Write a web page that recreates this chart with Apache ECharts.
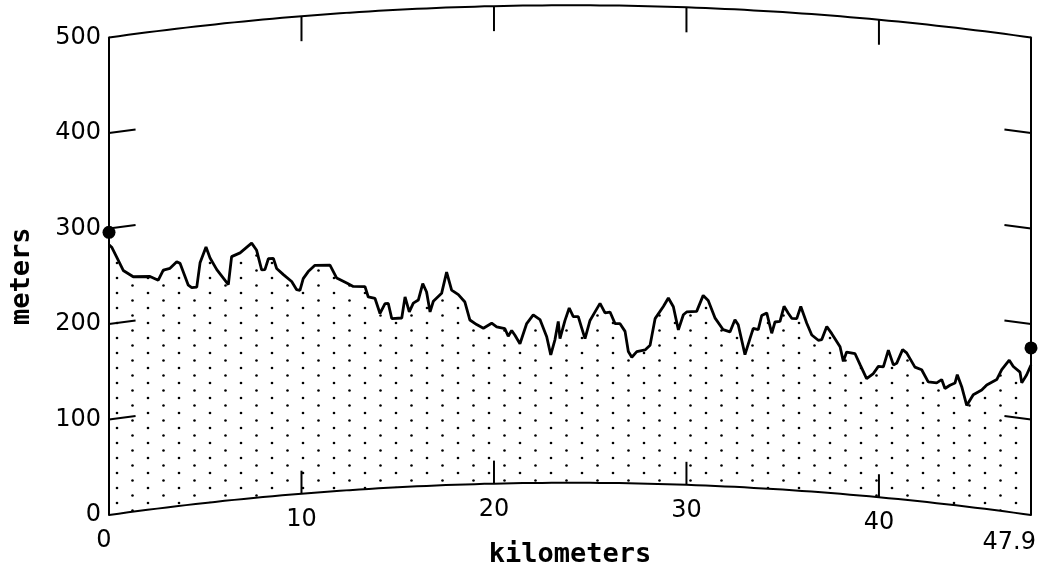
<!DOCTYPE html>
<html><head><meta charset="utf-8">
<script src="https://cdn.jsdelivr.net/npm/echarts@6/dist/echarts.min.js"></script>
<style>html,body{margin:0;padding:0;background:#fff}#c{width:1040px;height:573px}</style>
</head><body><div id="c"></div>
<script>
// Terrain profile: distance (km) and ground elevation (m)
const profileKm = [0,0.14,0.40,0.74,1.26,2.13,2.56,2.82,3.17,3.52,
3.69,4.12,4.30,4.56,4.73,5.04,5.25,5.60,6.20,6.37,
6.81,7.41,7.67,7.93,8.10,8.28,8.54,8.71,9.06,9.49,
9.75,9.92,10.09,10.35,10.70,11.48,11.83,12.35,12.69,13.30,
13.47,13.82,14.08,14.34,14.51,14.69,15.21,15.38,15.60,15.81,
16.07,16.30,16.50,16.68,16.85,17.28,17.54,17.80,18.15,18.49,
18.75,19.10,19.45,19.88,20.14,20.57,20.74,20.92,21.09,21.35,
21.70,22.04,22.39,22.74,22.95,23.17,23.34,23.43,23.69,23.91,
24.12,24.38,24.56,24.73,24.99,25.25,25.51,25.77,26.03,26.29,
26.55,26.81,26.98,27.16,27.42,27.85,28.11,28.37,28.80,29.06,
29.32,29.58,29.84,30.01,30.53,30.87,31.13,31.48,31.91,32.26,
32.52,32.69,33.04,33.30,33.47,33.73,33.91,34.17,34.43,34.60,
34.86,35.07,35.29,35.47,35.73,35.94,36.25,36.51,36.85,37.03,
37.29,37.55,37.98,38.15,38.32,38.76,39.02,39.36,39.71,39.97,
40.23,40.49,40.75,40.92,41.23,41.44,41.87,42.22,42.56,43.00,
43.26,43.43,43.69,43.95,44.07,44.30,44.56,44.90,45.34,45.60,
46.12,46.38,46.77,46.98,47.33,47.42,47.67,47.90];
const profileM = [283,280,269,254,246,244,239,249,250,256,
254,230,227,227,252,268,256,243,226,255,
258,267,259,238,238,249,249,238,231,223,
214,213,225,232,238,237,223,217,213,212,
201,199,183,193,193,177,177,199,183,192,
195,212,203,182,193,201,223,204,199,191,
172,167,163,168,164,162,154,160,155,146,
167,176,171,153,134,150,169,151,170,183,
174,174,162,151,170,179,188,178,179,167,
167,159,138,132,138,140,145,173,186,195,
186,162,178,181,182,199,194,176,164,162,
175,170,139,156,167,166,181,184,163,175,
176,192,185,180,180,193,176,164,159,160,
174,167,154,139,149,148,137,123,129,137,
137,155,140,142,157,154,140,138,126,126,
130,121,125,128,137,125,106,118,124,130,
137,148,159,153,148,137,146,157];
// Antenna sites (km, m)
const siteKm = [0, 47.9];
const siteM = [296, 175];
// Axes
const yTicks = [100, 200, 300, 400];
const xTicks = [10, 20, 30, 40];
const xLabelValues = [0, 10, 20, 30, 40, 47.9];
const xTickLabels = ['0', '10', '20', '30', '40', '47.9'];
const pathKm = 47.9;
const effRadiusKm = 8495; // 4/3 earth radius
const yMax = 500;

function bulge(x) { return x * (pathKm - x) / (2 * effRadiusKm) * 1000; }

// dotted fill pattern
const pc = document.createElement('canvas');
pc.width = 31; pc.height = 15;
const g = pc.getContext('2d');
g.fillStyle = '#000';
function dot(x, y) {
  for (const dx of [-31, 0, 31]) for (const dy of [-15, 0, 15]) {
    g.beginPath(); g.arc(x + dx, y + dy, 1.3, 0, Math.PI * 2); g.fill();
  }
}
dot(24, 8); dot(8.5, 0.5);

const curveX = [];
for (let i = 0; i <= 96; i++) curveX.push(Math.min(pathKm, i * 0.5));
if (curveX[curveX.length - 1] !== pathKm) curveX.push(pathKm);

const font = '"DejaVu Sans", sans-serif';
const chart = echarts.init(document.getElementById('c'), null, { renderer: 'canvas' });
chart.setOption({
  animation: false,
  backgroundColor: '#fff',
  grid: { left: 109, right: 9, top: 37.5, bottom: 58 },
  xAxis: {
    type: 'value', min: 0, max: pathKm,
    axisLine: { show: false }, axisTick: { show: false }, axisLabel: { show: false }, splitLine: { show: false },
    name: 'kilometers', nameLocation: 'middle', nameGap: 26,
    nameTextStyle: { fontFamily: '"DejaVu Sans Mono", monospace', fontWeight: 'bold', fontSize: 27, color: '#000' }
  },
  yAxis: [{
    type: 'value', min: 0, max: yMax, interval: 100, position: 'left',
    axisLine: { show: true, lineStyle: { color: '#000', width: 2 } },
    axisTick: { show: false }, splitLine: { show: false },
    axisLabel: { margin: 8, color: '#000', fontSize: 24, fontFamily: font },
    name: 'meters', nameLocation: 'middle', nameGap: 74, nameRotate: 90,
    nameTextStyle: { fontFamily: '"DejaVu Sans Mono", monospace', fontWeight: 'bold', fontSize: 27, color: '#000' }
  }, {
    type: 'value', min: 0, max: yMax, interval: 100, position: 'right',
    axisLine: { show: true, lineStyle: { color: '#000', width: 2 } },
    axisTick: { show: false }, splitLine: { show: false }, axisLabel: { show: false }
  }],
  series: [
    {
      type: 'custom', name: 'fill', silent: true, z: 1, data: [[0, 0]],
      renderItem: function (params, api) {
        const pts = [];
        for (let i = 0; i < profileKm.length; i++) pts.push(api.coord([profileKm[i], bulge(profileKm[i])]));
        for (let i = profileKm.length - 1; i >= 0; i--) pts.push(api.coord([profileKm[i], profileM[i] + bulge(profileKm[i])]));
        return { type: 'polygon', shape: { points: pts }, style: { fill: { image: pc, repeat: 'repeat' }, stroke: null } };
      }
    },
    {
      type: 'line', name: 'profile', z: 3, symbol: 'none', clip: false,
      data: profileKm.map((x, i) => [x, profileM[i] + bulge(x)]),
      lineStyle: { color: '#000', width: 2.8 }
    },
    {
      type: 'line', name: 'earth', z: 4, symbol: 'none', clip: false,
      data: curveX.map(x => [x, bulge(x)]),
      lineStyle: { color: '#000', width: 2 }
    },
    {
      type: 'line', name: 'top', z: 4, symbol: 'none', clip: false,
      data: curveX.map(x => [x, yMax + bulge(x)]),
      lineStyle: { color: '#000', width: 2 }
    },
    {
      type: 'custom', name: 'xticks', z: 4, silent: true, clip: false,
      data: xTicks.map(t => [t, 0]),
      renderItem: function (params, api) {
        const t = api.value(0);
        const b = api.coord([t, bulge(t)]);
        const tp = api.coord([t, yMax + bulge(t)]);
        return { type: 'group', children: [
          { type: 'line', shape: { x1: b[0], y1: b[1], x2: b[0], y2: b[1] - 23 }, style: { stroke: '#000', lineWidth: 2 } },
          { type: 'line', shape: { x1: tp[0], y1: tp[1], x2: tp[0], y2: tp[1] + 25 }, style: { stroke: '#000', lineWidth: 2 } }
        ] };
      }
    },
    {
      type: 'custom', name: 'yticks', z: 4, silent: true, clip: false,
      data: yTicks.map(v => [0, v]),
      renderItem: function (params, api) {
        const v = api.value(1), d = 1.38;
        const l0 = api.coord([0, v]), l1 = api.coord([d, v + bulge(d)]);
        const r0 = api.coord([pathKm, v]), r1 = api.coord([pathKm - d, v + bulge(pathKm - d)]);
        return { type: 'group', children: [
          { type: 'line', shape: { x1: l0[0], y1: l0[1], x2: l1[0], y2: l1[1] }, style: { stroke: '#000', lineWidth: 2 } },
          { type: 'line', shape: { x1: r0[0], y1: r0[1], x2: r1[0], y2: r1[1] }, style: { stroke: '#000', lineWidth: 2 } }
        ] };
      }
    },
    {
      type: 'custom', name: 'xlabels', z: 4, silent: true, clip: false,
      data: xLabelValues.map((v, i) => [v, i]),
      renderItem: function (params, api) {
        const v = api.value(0), i = params.dataIndex;
        const p = api.coord([v, bulge(v)]);
        const last = i === xLabelValues.length - 1;
        const first = i === 0;
        return { type: 'text', x: p[0] + (last ? 5 : (first ? -5 : 0)), y: p[1] + (last ? 28 : 26),
          style: { text: xTickLabels[i], fill: '#000', fontSize: 24, fontFamily: font,
            align: last ? 'right' : 'center', verticalAlign: 'middle' } };
      }
    },
    {
      type: 'scatter', name: 'sites', z: 5, clip: false, symbol: 'circle', symbolSize: 13,
      data: siteKm.map((x, i) => [x, siteM[i] + bulge(x)]),
      itemStyle: { color: '#000', opacity: 1 }
    }
  ]
});
</script>
</body></html>
